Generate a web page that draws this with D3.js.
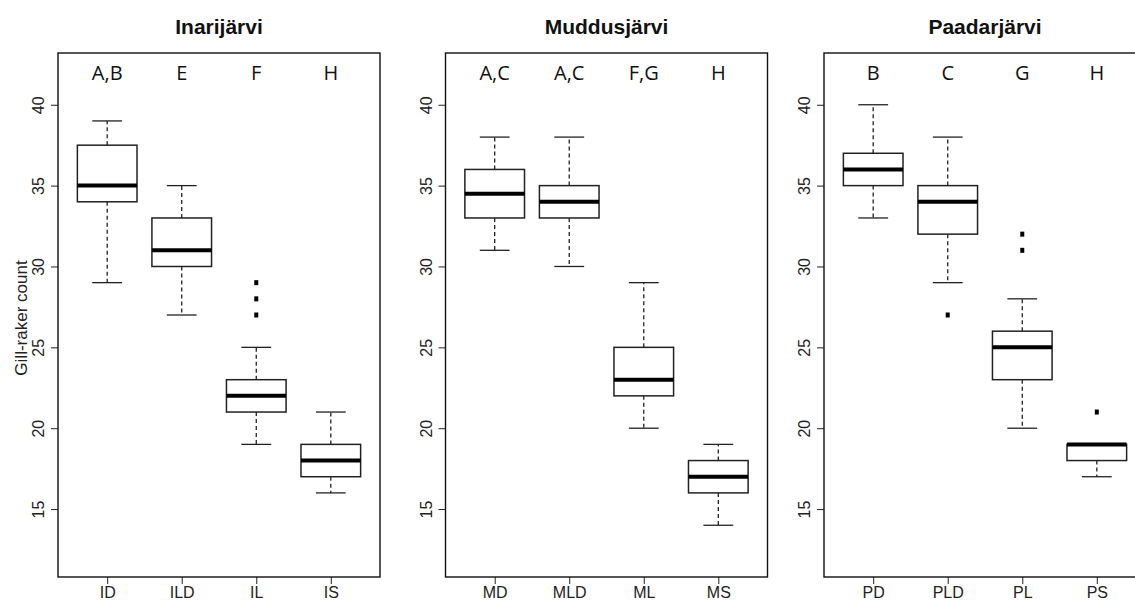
<!DOCTYPE html>
<html>
<head>
<meta charset="utf-8">
<script src="https://cdn.jsdelivr.net/npm/d3@7"></script>
<style>
  html, body { margin: 0; padding: 0; background: #fff; }
  svg { display: block; }
</style>
</head>
<body>
<svg id="chart" width="1135" height="600"></svg>
<script>
// ---- data ----
const titles = ["Inarijärvi", "Muddusjärvi", "Paadarjärvi"];
const categories = [["ID", "ILD", "IL", "IS"], ["MD", "MLD", "ML", "MS"], ["PD", "PLD", "PL", "PS"]];
const letters = [["A,B", "E", "F", "H"], ["A,C", "A,C", "F,G", "H"], ["B", "C", "G", "H"]];
const whiskerLow  = [[29, 27, 19, 16], [31, 30, 20, 14], [33, 29, 20, 17]];
const q1          = [[34, 30, 21, 17], [33, 33, 22, 16], [35, 32, 23, 18]];
const median      = [[35, 31, 22, 18], [34.5, 34, 23, 17], [36, 34, 25, 19]];
const q3          = [[37.5, 33, 23, 19], [36, 35, 25, 18], [37, 35, 26, 19]];
const whiskerHigh = [[39, 35, 25, 21], [38, 38, 29, 19], [40, 38, 28, 19]];
const outliers    = [[[], [], [27, 28, 29], []], [[], [], [], []], [[], [27], [31, 32], [21]]];
const yTicks = [15, 20, 25, 30, 35, 40];
const yLabel = "Gill-raker count";

// ---- layout ----
const svg = d3.select("#chart");
const panelLefts = [58, 445.5, 824];
const panelWidth = 322;
const plotTop = 53, plotBottom = 577;

const y = d3.scaleLinear().domain([10.8, 43.2]).range([plotBottom, plotTop]);
const boxColor = "#222";

panelLefts.forEach((left, p) => {
  const x = d3.scaleLinear().domain([0.34, 4.66]).range([left, left + panelWidth]);
  const unit = x(1) - x(0);
  const g = svg.append("g");

  // y axis
  const yAxis = g.append("g")
    .attr("transform", `translate(${left},0)`)
    .call(d3.axisLeft(y).tickValues(yTicks).tickSize(7).tickFormat(d3.format("d")));
  yAxis.select(".domain").remove();
  yAxis.selectAll(".tick line").attr("stroke", "#222").attr("stroke-width", 1);
  yAxis.selectAll(".tick text")
    .attr("x", null).attr("dy", null).attr("y", null)
    .attr("transform", "translate(-14,0) rotate(-90)")
    .attr("text-anchor", "middle")
    .attr("font-family", "Liberation Sans, Arial, sans-serif")
    .attr("font-size", 16)
    .attr("fill", "#222");

  // x axis
  const xAxis = g.append("g")
    .attr("transform", `translate(0,${plotBottom})`)
    .call(d3.axisBottom(x).tickValues([1, 2, 3, 4]).tickSize(7)
      .tickFormat((d) => categories[p][d - 1]));
  xAxis.select(".domain").remove();
  xAxis.selectAll(".tick line").attr("stroke", "#222").attr("stroke-width", 1);
  xAxis.selectAll(".tick text")
    .attr("y", 21).attr("dy", null)
    .attr("font-family", "Liberation Sans, Arial, sans-serif")
    .attr("font-size", 16)
    .attr("fill", "#222");

  // frame
  g.append("rect")
    .attr("x", left).attr("y", plotTop)
    .attr("width", panelWidth).attr("height", plotBottom - plotTop)
    .attr("fill", "none").attr("stroke", "#111").attr("stroke-width", 1.4);

  // title
  g.append("text")
    .attr("x", left + panelWidth / 2).attr("y", 34)
    .attr("text-anchor", "middle")
    .attr("font-family", "Liberation Sans, Arial, sans-serif")
    .attr("font-weight", "bold")
    .attr("font-size", 21)
    .attr("fill", "#111")
    .text(titles[p]);

  // group letters
  g.selectAll("text.letter").data(letters[p]).enter().append("text")
    .attr("class", "letter")
    .attr("x", (d, i) => x(i + 1)).attr("y", 80)
    .attr("text-anchor", "middle")
    .attr("font-family", "Open Sans, sans-serif")
    .attr("font-size", 20)
    .attr("fill", "#111")
    .text((d) => d);

  // boxes
  categories[p].forEach((cat, i) => {
    const cx = x(i + 1);
    const bw = 0.8 * unit, sw = 0.4 * unit;
    const bg = g.append("g");
    if (whiskerHigh[p][i] > q3[p][i]) {
      bg.append("line").attr("x1", cx).attr("x2", cx)
        .attr("y1", y(q3[p][i])).attr("y2", y(whiskerHigh[p][i]))
        .attr("stroke", boxColor).attr("stroke-width", 1.3).attr("stroke-dasharray", "4,3");
    }
    bg.append("line").attr("x1", cx).attr("x2", cx)
      .attr("y1", y(q1[p][i])).attr("y2", y(whiskerLow[p][i]))
      .attr("stroke", boxColor).attr("stroke-width", 1.3).attr("stroke-dasharray", "4,3");
    [whiskerHigh[p][i], whiskerLow[p][i]].forEach((v) => {
      bg.append("line").attr("x1", cx - sw / 2).attr("x2", cx + sw / 2)
        .attr("y1", y(v)).attr("y2", y(v))
        .attr("stroke", boxColor).attr("stroke-width", 1.3);
    });
    bg.append("rect")
      .attr("x", cx - bw / 2).attr("y", y(q3[p][i]))
      .attr("width", bw).attr("height", y(q1[p][i]) - y(q3[p][i]))
      .attr("fill", "#fff").attr("stroke", boxColor).attr("stroke-width", 1.5);
    bg.append("line").attr("x1", cx - bw / 2).attr("x2", cx + bw / 2)
      .attr("y1", y(median[p][i])).attr("y2", y(median[p][i]))
      .attr("stroke", "#000").attr("stroke-width", 4);
    bg.selectAll("rect.out").data(outliers[p][i]).enter().append("rect")
      .attr("class", "out")
      .attr("x", cx - 2).attr("y", (d) => y(d) - 2.5)
      .attr("width", 4).attr("height", 5)
      .attr("fill", "#000");
  });
});

// y-axis title
svg.append("text")
  .attr("transform", "translate(27,318) rotate(-90)")
  .attr("text-anchor", "middle")
  .attr("font-family", "Liberation Sans, Arial, sans-serif")
  .attr("font-size", 17)
  .attr("fill", "#222")
  .text(yLabel);
</script>
</body>
</html>
